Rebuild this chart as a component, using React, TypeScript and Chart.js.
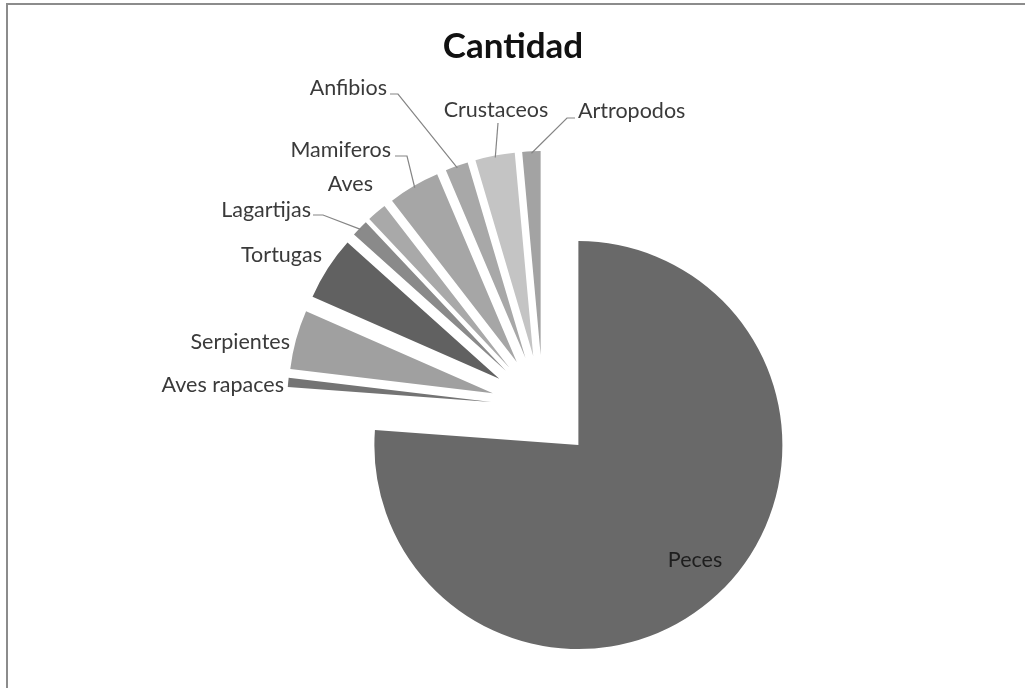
import React, { useEffect, useRef } from "react";
import { Chart, ArcElement, PieController } from "chart.js";

Chart.register(ArcElement, PieController);

// ---- data ----
const chartTitle = "Cantidad";
const categories = [
  "Peces",
  "Aves rapaces",
  "Serpientes",
  "Tortugas",
  "Lagartijas",
  "Aves",
  "Mamiferos",
  "Anfibios",
  "Crustaceos",
  "Artropodos",
];
const cantidad = [633, 6, 39, 42, 11, 13, 34, 15, 26, 12];

// ---- styles / layout ----
const sliceColors = [
  "#696969",
  "#747474",
  "#a0a0a0",
  "#616161",
  "#8a8a8a",
  "#a9a9a9",
  "#a6a6a6",
  "#a8a8a8",
  "#c4c4c4",
  "#a3a3a3",
];
const W = 1025;
const H = 688;
const CENTER_X = 543;
const CENTER_Y = 407;
const PIE_RADIUS = 204;
const EXPLODE = 52;
const FONT = "Lato, 'Open Sans', sans-serif";

type LabelLayout = {
  x: number;
  y: number;
  align: CanvasTextAlign;
  color?: string;
  leader?: [number, number][];
};

const labelLayout: LabelLayout[] = [
  { x: 695, y: 560, align: "center", color: "#1e1e1e" },
  { x: 284, y: 385, align: "right" },
  { x: 290, y: 342, align: "right" },
  { x: 322, y: 255, align: "right" },
  { x: 311, y: 210, align: "right", leader: [[323, 215], [313, 215]] },
  { x: 373, y: 184, align: "right" },
  { x: 391, y: 150, align: "right", leader: [[407, 156], [395, 156]] },
  { x: 387, y: 88, align: "right", leader: [[398, 94], [390, 94]] },
  { x: 496, y: 110, align: "center", leader: [[498, 123]] },
  { x: 578, y: 111, align: "left", leader: [[567, 118], [575, 118]] },
];

const explodePlugin = {
  id: "explodeSlices",
  afterDatasetUpdate(chart: any, args: any) {
    const ca = chart.chartArea;
    const bx = (ca.left + ca.right) / 2;
    const by = (ca.top + ca.bottom) / 2;
    args.meta.data.forEach((el: any) => {
      const mid = (el.startAngle + el.endAngle) / 2;
      el.x = bx + EXPLODE * Math.cos(mid);
      el.y = by + EXPLODE * Math.sin(mid);
    });
  },
};

const labelPlugin = {
  id: "sliceLabels",
  afterDatasetsDraw(chart: any) {
    const ctx: CanvasRenderingContext2D = chart.ctx;
    const meta = chart.getDatasetMeta(0);
    ctx.save();
    // title
    ctx.fillStyle = "#111111";
    ctx.font = `bold 35px ${FONT}`;
    ctx.textAlign = "center";
    ctx.textBaseline = "middle";
    ctx.fillText(chartTitle, 513, 47);

    ctx.font = `21.5px ${FONT}`;
    meta.data.forEach((el: any, i: number) => {
      const lay = labelLayout[i];
      if (!lay) return;
      const mid = (el.startAngle + el.endAngle) / 2;
      if (lay.leader) {
        const r = el.outerRadius - 2;
        ctx.beginPath();
        ctx.strokeStyle = "#858585";
        ctx.lineWidth = 1.2;
        ctx.moveTo(el.x + r * Math.cos(mid), el.y + r * Math.sin(mid));
        lay.leader.forEach(([px, py]) => ctx.lineTo(px, py));
        ctx.stroke();
      }
      ctx.fillStyle = lay.color || "#3a3a3a";
      ctx.textAlign = lay.align;
      ctx.fillText(categories[i], lay.x, lay.y);
    });
    ctx.restore();
  },
};

export default function App() {
  const ref = useRef<HTMLCanvasElement | null>(null);
  useEffect(() => {
    if (!ref.current) return;
    const chart = new Chart(ref.current, {
      type: "pie",
      data: {
        labels: categories,
        datasets: [
          {
            data: cantidad,
            backgroundColor: sliceColors,
            borderWidth: 0,
          },
        ],
      },
      options: {
        animation: false,
        responsive: false,
        devicePixelRatio: 1,
        radius: PIE_RADIUS,
        layout: {
          padding: {
            left: 2 * CENTER_X - W + 239,
            right: 239,
            top: 2 * CENTER_Y - H + 24,
            bottom: 24,
          },
        },
        plugins: {
          legend: { display: false },
          title: { display: false },
          tooltip: { enabled: false },
        },
        events: [],
      } as any,
      plugins: [explodePlugin, labelPlugin],
    });
    return () => chart.destroy();
  }, []);

  return (
    <div style={{ position: "absolute", left: 0, top: 0, width: W, height: H, background: "#fff", overflow: "hidden" }}>
      <div
        style={{
          position: "absolute",
          left: 6,
          top: 3,
          right: 0,
          bottom: 0,
          borderLeft: "2px solid #8c8c8c",
          borderTop: "2px solid #8c8c8c",
        }}
      />
      <canvas ref={ref} width={W} height={H} style={{ position: "absolute", left: 0, top: 0 }} />
    </div>
  );
}
